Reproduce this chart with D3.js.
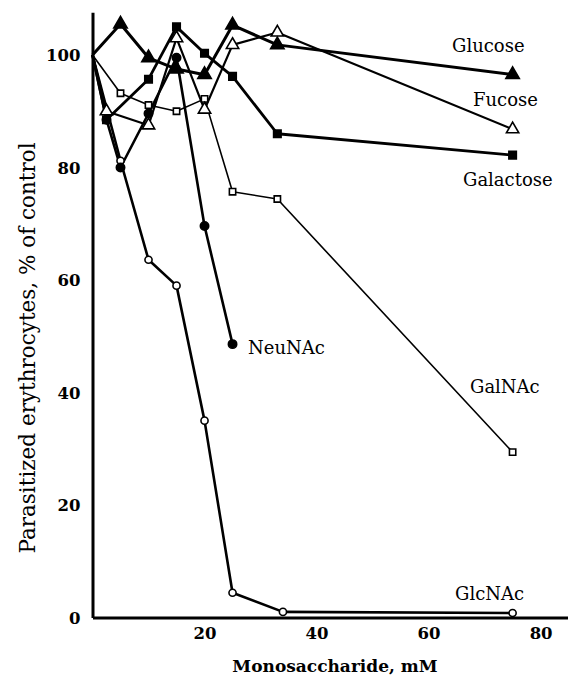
<!DOCTYPE html>
<html>
<head>
<meta charset="utf-8">
<script src="https://cdn.jsdelivr.net/npm/d3@7"></script>
<style>
  html, body { margin: 0; padding: 0; background: #fff; }
  svg { display: block; }
</style>
</head>
<body>
<div id="chart"></div>
<script>
// ---- data ----
const xTicks = [20, 40, 60, 80];
const yTicks = [0, 20, 40, 60, 80, 100];

const glucoseX = [0, 5, 10, 15, 20, 25, 33, 75];
const glucoseY = [100, 105.5, 99.5, 97.5, 96.5, 105.3, 101.8, 96.5];

const fucoseX = [0, 2.5, 10, 15, 20, 25, 33, 75];
const fucoseY = [100, 90, 87.5, 103, 90.3, 101.8, 104, 86.8];

const galactoseX = [0, 2.5, 10, 15, 20, 25, 33, 75];
const galactoseY = [100, 88.5, 95.7, 105, 100.3, 96.2, 86, 82.2];

const neuNAcX = [0, 2.5, 5, 10, 15, 20, 25];
const neuNAcY = [100, 88.5, 80, 89.6, 99.5, 69.6, 48.6];

const galNAcX = [0, 5, 10, 15, 20, 25, 33, 75];
const galNAcY = [100, 93.2, 91.1, 90, 92.2, 75.7, 74.4, 29.4];

const glcNAcX = [0, 5, 10, 15, 20, 25, 34, 75];
const glcNAcY = [100, 81.2, 63.6, 59, 35, 4.4, 1.0, 0.8];

const seriesNames = ["Glucose", "Fucose", "Galactose", "NeuNAc", "GalNAc", "GlcNAc"];

// ---- layout / style ----
const W = 568, H = 681;
const x0 = 92.5, y0 = 617.5;
const x = d3.scaleLinear().domain([0, 84.8]).range([x0, 567.5]);
const y = d3.scaleLinear().domain([0, 107.6]).range([y0, y0 - 107.6 * 5.625]);

const series = [
  { name: seriesNames[0], xs: glucoseX,   ys: glucoseY,   sym: d3.symbolTriangle, size: 78, fill: "#000", lw: 3.0, lab: [452, 52] },
  { name: seriesNames[1], xs: fucoseX,    ys: fucoseY,    sym: d3.symbolTriangle, size: 66, fill: "#fff", lw: 2.2, lab: [473, 106] },
  { name: seriesNames[2], xs: galactoseX, ys: galactoseY, sym: d3.symbolSquare,   size: 56, fill: "#000", lw: 2.8, lab: [463, 186] },
  { name: seriesNames[3], xs: neuNAcX,    ys: neuNAcY,    sym: d3.symbolCircle,   size: 55, fill: "#000", lw: 2.6, lab: [248, 354] },
  { name: seriesNames[4], xs: galNAcX,    ys: galNAcY,    sym: d3.symbolSquare,   size: 40, fill: "#fff", lw: 1.6, lab: [470, 393] },
  { name: seriesNames[5], xs: glcNAcX,    ys: glcNAcY,    sym: d3.symbolCircle,   size: 40, fill: "#fff", lw: 2.6, lab: [455, 600] }
];

const svg = d3.select("#chart").append("svg")
  .attr("width", W).attr("height", H)
  .attr("viewBox", `0 0 ${W} ${H}`);

const serif = "'DejaVu Serif', 'Liberation Serif', serif";

// lines
const line = d3.line().x(d => x(d[0])).y(d => y(d[1]));
series.forEach(s => {
  const pts = s.xs.map((v, i) => [v, s.ys[i]]);
  svg.append("path")
    .attr("d", line(pts))
    .attr("fill", "none")
    .attr("stroke", "#000")
    .attr("stroke-width", s.lw)
    .attr("stroke-linejoin", "round");
});

// markers
series.slice().reverse().forEach(s => {
  const sym = d3.symbol().type(s.sym).size(s.size);
  s.xs.forEach((v, i) => {
    if (v === 0) return;
    svg.append("path")
      .attr("d", sym())
      .attr("transform", `translate(${x(v)},${y(s.ys[i])})`)
      .attr("fill", s.fill)
      .attr("stroke", "#000")
      .attr("stroke-width", 1.6);
  });
});

// axes (no tick marks)
const xAxis = d3.axisBottom(x).tickValues(xTicks).tickSize(0).tickPadding(10);
const yAxis = d3.axisLeft(y).tickValues(yTicks).tickSize(0).tickPadding(12);

const gx = svg.append("g").attr("transform", `translate(0,${y0})`).call(xAxis);
const gy = svg.append("g").attr("transform", `translate(${x0},0)`).call(yAxis);

[gx, gy].forEach(g => {
  g.select(".domain").attr("stroke", "#000").attr("stroke-width", 3);
  g.selectAll("text")
    .attr("font-family", serif)
    .attr("font-weight", "bold")
    .attr("font-size", 16.5)
    .attr("fill", "#000");
});
gy.selectAll("text").attr("dy", "0.36em");

// series labels
svg.append("g").selectAll("text")
  .data(series)
  .join("text")
  .attr("x", d => d.lab[0])
  .attr("y", d => d.lab[1])
  .attr("font-family", serif)
  .attr("font-size", 18)
  .attr("fill", "#000")
  .text(d => d.name);

// axis titles
svg.append("text")
  .attr("x", 335).attr("y", 672)
  .attr("text-anchor", "middle")
  .attr("font-family", serif)
  .attr("font-weight", "bold")
  .attr("font-size", 17)
  .text("Monosaccharide, mM");

svg.append("text")
  .attr("transform", "translate(35,348) rotate(-90)")
  .attr("text-anchor", "middle")
  .attr("font-family", serif)
  .attr("font-size", 21.5)
  .text("Parasitized erythrocytes, % of control");
</script>
</body>
</html>
